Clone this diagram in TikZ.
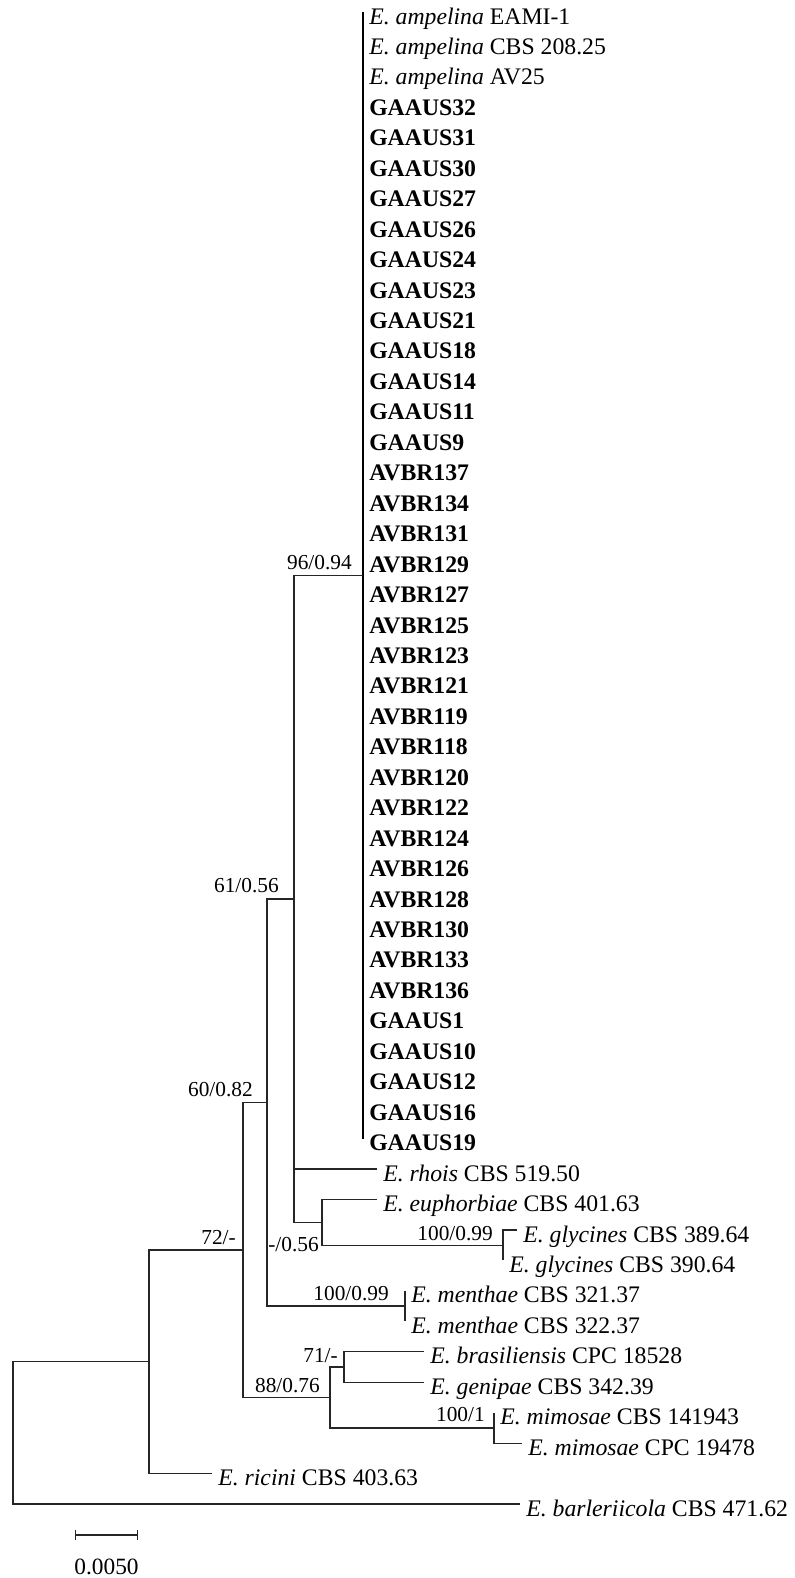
\documentclass[tikz,border=0pt]{standalone}
\usepackage{fontspec}
\setmainfont{Liberation Serif}
\usetikzlibrary{arrows.meta, positioning, calc}

\begin{document}
\begin{tikzpicture}[
  x=0.75pt, y=-0.75pt,
  branch/.style={draw=black!85, line width=1pt},
  clade/.style={draw=black, line width=1.5pt},
  taxon/.style={anchor=base west, inner sep=0pt, font=\fontsize{17.8}{20}\selectfont},
  strain/.style={taxon, font=\fontsize{17.8}{20}\selectfont\bfseries},
  support/.style={anchor=base east, inner sep=0pt, font=\fontsize{16}{18}\selectfont},
  scalebar/.style={{Bar[width=7pt]}-{Bar[width=7pt]}, line width=1pt, black!85},
]
\useasboundingbox (0,0) rectangle (794,1578);

% Ampelina clade
\foreach \lab [count=\k] in {EAMI-1, CBS 208.25, AV25} {
  \coordinate (t\k) at (363, {12+30.45*(\k-1)});
  \node[taxon] (l\k) at ($(t\k)+(6,12)$) {\textit{E. ampelina} \lab};
}
\foreach \lab [count=\k from 4] in {GAAUS32, GAAUS31, GAAUS30, GAAUS27, GAAUS26,
    GAAUS24, GAAUS23, GAAUS21, GAAUS18, GAAUS14, GAAUS11, GAAUS9,
    AVBR137, AVBR134, AVBR131, AVBR129, AVBR127, AVBR125, AVBR123, AVBR121,
    AVBR119, AVBR118, AVBR120, AVBR122, AVBR124, AVBR126, AVBR128, AVBR130,
    AVBR133, AVBR136, GAAUS1, GAAUS10, GAAUS12, GAAUS16, GAAUS19} {
  \coordinate (t\k) at (363, {12+30.45*(\k-1)});
  \node[strain] (l\k) at ($(t\k)+(6,12)$) {\lab};
}

% Other tips
\coordinate (rhois) at (377, 1169.1);
\coordinate (euph)  at (377, 1199.55);
\coordinate (gly1)  at (517, 1230.0);
\coordinate (gly2)  at (503, 1260.45);
\coordinate (men1)  at (405, 1290.9);
\coordinate (men2)  at (405, 1321.35);
\coordinate (bras)  at (424, 1351.8);
\coordinate (gen)   at (424, 1382.25);
\coordinate (mim1)  at (494, 1412.7);
\coordinate (mim2)  at (522, 1443.15);
\coordinate (ric)   at (212, 1473.6);
\coordinate (barl)  at (520, 1504.05);

\node[taxon] (lrhois) at ($(rhois)+(6,12)$) {\textit{E. rhois} CBS 519.50};
\node[taxon] (leuph)  at ($(euph)+(6,12)$)  {\textit{E. euphorbiae} CBS 401.63};
\node[taxon] (lgly1)  at ($(gly1)+(6,12)$)  {\textit{E. glycines} CBS 389.64};
\node[taxon] (lgly2)  at ($(gly2)+(6,12)$)  {\textit{E. glycines} CBS 390.64};
\node[taxon] (lmen1)  at ($(men1)+(6,12)$)  {\textit{E. menthae} CBS 321.37};
\node[taxon] (lmen2)  at ($(men2)+(6,12)$)  {\textit{E. menthae} CBS 322.37};
\node[taxon] (lbras)  at ($(bras)+(6,12)$)  {\textit{E. brasiliensis} CPC 18528};
\node[taxon] (lgen)   at ($(gen)+(6,12)$)   {\textit{E. genipae} CBS 342.39};
\node[taxon] (lmim1)  at ($(mim1)+(6,12)$)  {\textit{E. mimosae} CBS 141943};
\node[taxon] (lmim2)  at ($(mim2)+(6,12)$)  {\textit{E. mimosae} CPC 19478};
\node[taxon] (lric)   at ($(ric)+(6,12)$)   {\textit{E. ricini} CBS 403.63};
\node[taxon] (lbarl)  at ($(barl)+(6,12)$)  {\textit{E. barleriicola} CBS 471.62};

% Internal nodes
\coordinate (n96)  at (363, 575.33);
\coordinate (nGly) at (503, 1245.23);
\coordinate (nEup) at (322, 1222.39);
\coordinate (nA)   at (294, 898.86);
\coordinate (nMen) at (405, 1306.13);
\coordinate (nB)   at (267, 1102.49);
\coordinate (n71)  at (344, 1367.03);
\coordinate (nMim) at (494, 1427.93);
\coordinate (n88)  at (330, 1397.48);
\coordinate (nC)   at (243, 1249.98);
\coordinate (n72)  at (149, 1361.79);
\coordinate (root) at (13, 1432.92);

% Branches
\draw[clade] (t1) -- (t38);
\draw[branch] (nA) |- (n96);
\draw[branch] (nA) |- (rhois);
\draw[branch] (nA) |- (nEup);
\draw[branch] (nEup) |- (euph);
\draw[branch] (nEup) |- (nGly);
\draw[branch] (nGly) |- (gly1);
\draw[branch] (nGly) |- (gly2);
\draw[branch] (nB) |- (nA);
\draw[branch] (nB) |- (nMen);
\draw[branch] (nMen) |- (men1);
\draw[branch] (nMen) |- (men2);
\draw[branch] (n71) |- (bras);
\draw[branch] (n71) |- (gen);
\draw[branch] (nMim) |- (mim1);
\draw[branch] (nMim) |- (mim2);
\draw[branch] (n88) |- (n71);
\draw[branch] (n88) |- (nMim);
\draw[branch] (nC) |- (nB);
\draw[branch] (nC) |- (n88);
\draw[branch] (n72) |- (nC);
\draw[branch] (n72) |- (ric);
\draw[branch] (root) |- (n72);
\draw[branch] (root) |- (barl);

% Support values
\node[support] (s96)  at ($(n96)+(-11,-6)$)  {96/0.94};
\node[support] (sA)   at ($(nA)+(-15,-6)$)   {61/0.56};
\node[support] (sB)   at ($(nB)+(-14,-6)$)   {60/0.82};
\node[support] (sC)   at ($(nC)+(-7,-5)$)    {72/-};
\node[support] (sEup) at ($(nEup)+(-3,29)$)  {-/0.56};
\node[support] (sGly) at ($(nGly)+(-10,-5)$) {100/0.99};
\node[support] (sMen) at ($(nMen)+(-16,-6)$) {100/0.99};
\node[support] (s71)  at ($(n71)+(-6,-5)$)   {71/-};
\node[support] (s88)  at ($(n88)+(-10,-5)$)  {88/0.76};
\node[support] (sMim) at ($(nMim)+(-9,-6)$)  {100/1};

% Scale bar
\coordinate (sbl) at (75, 1535);
\coordinate (sbr) at (138, 1535);
\draw[scalebar] (sbl) -- (sbr);
\node[font=\fontsize{17.5}{20}\selectfont, inner sep=0pt] (sblab) at ($(sbl)!0.5!(sbr)+(0,32)$) {0.0050};

\end{tikzpicture}
\end{document}
